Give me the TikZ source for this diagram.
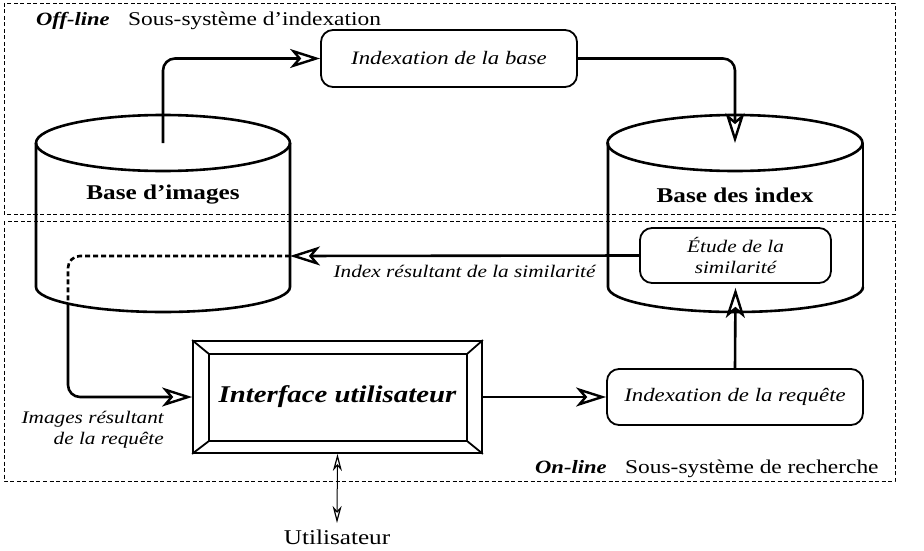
\documentclass[tikz,border=0pt]{standalone}
\usepackage{fontspec}
\setmainfont{Liberation Serif}
\usepackage{graphicx}
\usetikzlibrary{arrows.meta,calc}
\newcommand{\hsx}[1]{\scalebox{1.2}[1]{#1}}
\tikzset{
  harrtip/.tip={Stealth[open,length=30pt,width=19pt,inset=8pt,line width=2.4pt]},
  uarrtip/.tip={Stealth[open,length=17pt,width=9pt,inset=5pt,line width=1.2pt]}
}
\begin{document}
\begin{tikzpicture}[x=1pt,y=-1pt,
  every node/.style={font=\fontsize{19}{23}\selectfont, inner sep=0pt},
  frame/.style={draw, line width=0.9pt, dash pattern=on 4pt off 2.5pt},
  cyl/.style={draw, line width=2.6pt},
  rbox/.style={draw, line width=1.8pt, rounded corners=12pt},
  harr/.style={-harrtip, line width=2.6pt},
  dharr/.style={uarrtip-uarrtip, line width=1pt},
  lbl/.style={font=\fontsize{19}{23}\selectfont\itshape},
  slbl/.style={font=\fontsize{17.7}{21}\selectfont\itshape},
  tag/.style={font=\fontsize{18.8}{22}\selectfont\bfseries\itshape, anchor=base west},
  sub/.style={font=\fontsize{19.5}{23}\selectfont, anchor=base west}
]
\useasboundingbox (0,0) rectangle (924,551);
\fill[white] (0,0) rectangle (924,551);

% frames
\draw[frame] (4,3) rectangle (895,214);
\draw[frame] (4,221) rectangle (895,481);
\node[tag] (offl) at (36,26) {\hsx{Off-line}};
\node[sub] (offs) at (128,26) {\hsx{Sous-système d’indexation}};
\node[tag] (onl) at (535,473) {\hsx{On-line}};
\node[sub] (ons) at (625,473) {\hsx{Sous-système de recherche}};

% cylinders
\draw[cyl] (163,143) ellipse[x radius=127, y radius=28];
\draw[cyl] (36,143) -- (36,287) arc[start angle=180,end angle=0,x radius=127,y radius=25] -- (290,143);
\draw[cyl] (735,143) ellipse[x radius=127.5, y radius=28];
\draw[cyl] (608,143) -- (608,287) arc[start angle=180,end angle=0,x radius=127.5,y radius=25];
\draw[line width=1.6pt] (863,287) -- (863,143);
\coordinate (bi-top) at (163,143);
\coordinate (bi-right) at (290,256);
\coordinate (bi-dash) at (68,256);
\coordinate (bi-exit) at (68,303);
\coordinate (bx-top) at (735,143);
\node[font=\fontsize{21}{25}\selectfont\bfseries] (bimg) at (163,195) {\hsx{Base d’images}};
\node[font=\fontsize{21}{25}\selectfont\bfseries] (bidx) at (735,195) {\hsx{Base des index}};

% boxes
\node[rbox, minimum width=256pt, minimum height=57pt, lbl] (idxbase) at (449,58.5) {\hsx{Indexation de la base}};
\node[rbox, minimum width=191pt, minimum height=55pt, slbl, align=center] (etude) at (735.5,255.5) {\hsx{Étude de la}\\\hsx{similarité}};
\node[rbox, minimum width=256pt, minimum height=56pt, lbl] (idxreq) at (735,397) {\hsx{Indexation de la requête}};
\node[draw, line width=1.8pt, minimum width=289pt, minimum height=112pt, font=\fontsize{24}{28}\selectfont\bfseries\itshape] (iface) at (337.5,397) {\hsx{Interface utilisateur}};
\coordinate (in-nw) at ($(iface.north west)+(17,14)$);
\coordinate (in-ne) at ($(iface.north east)+(-16,14)$);
\coordinate (in-se) at ($(iface.south east)+(-16,-13)$);
\coordinate (in-sw) at ($(iface.south west)+(17,-13)$);
\draw[line width=1.8pt] (in-nw) rectangle (in-se);
\draw[line width=1.8pt] (iface.north west) -- (in-nw) (iface.north east) -- (in-ne)
  (iface.south east) -- (in-se) (iface.south west) -- (in-sw);

% user
\node[font=\fontsize{21}{25}\selectfont] (user) at (337,537) {\hsx{Utilisateur}};
\coordinate (user-top) at (337,523);

% labels
\node[slbl, align=right, anchor=east] (imgres) at (164,430) {\hsx{Images résultant}\\\hsx{de la requête}};

% connectors
\draw[harr, rounded corners=12pt] (bi-top) |- (idxbase.west);
\draw[harr, rounded corners=12pt] (idxbase.east) -| (bx-top);
\draw[harr] (etude.west) -- node[slbl, below=8pt] (idxres) {\hsx{Index résultant de la similarité}} (bi-right);
\draw[line width=2.6pt, dash pattern=on 5pt off 3pt, rounded corners=12pt] (bi-right) -- (bi-dash) -- (bi-exit);
\draw[harr, rounded corners=12pt] (bi-exit) |- (iface.west);
\draw[harr, line width=1.6pt] (iface.east) -- (idxreq.west);
\draw[harr] (idxreq.north) -- ($(etude.south)+(0,4)$);
\draw[dharr] (iface.south) -- (user-top);
\end{tikzpicture}
\end{document}
